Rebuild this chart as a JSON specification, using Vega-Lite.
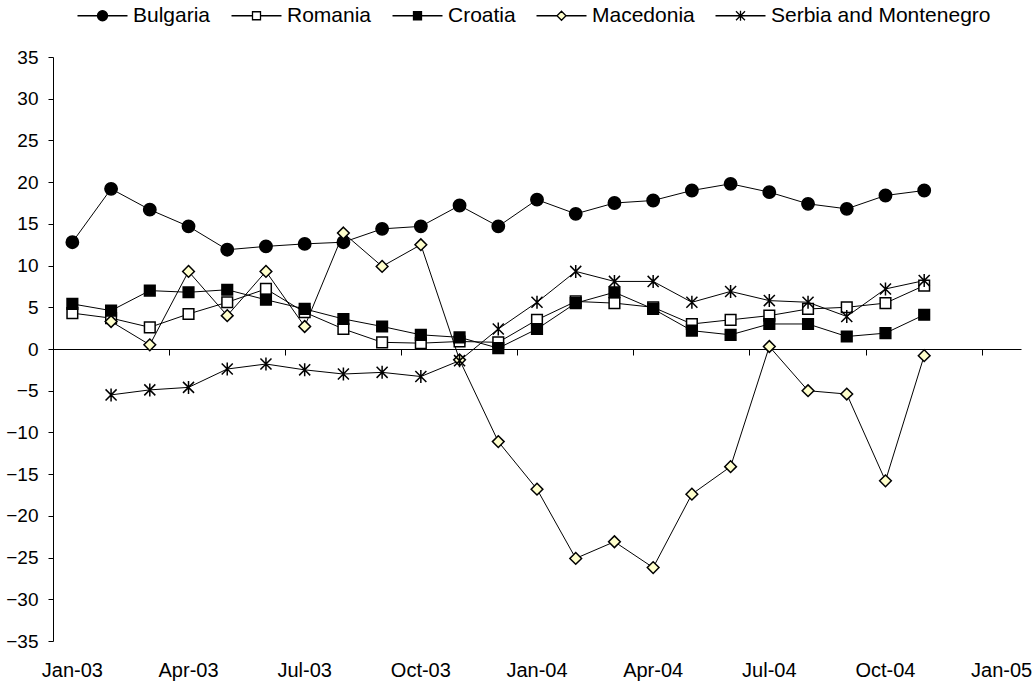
{
  "$schema": "https://vega.github.io/schema/vega-lite/v6.json",
  "width": 968,
  "height": 584,
  "autosize": "none",
  "padding": {"left": 53, "top": 57, "right": 15, "bottom": 45},
  "background": "white",
  "config": {
    "view": {"stroke": null},
    "font": "Liberation Sans",
    "axis": {"labelFont": "Liberation Sans", "labelColor": "black", "domainColor": "black", "tickColor": "black", "grid": false, "title": null},
    "legend": {"labelFont": "Liberation Sans"}
  },
  "data": {"values": [
    {"date": "2003-01-01", "month": "Jan-03", "country": "Bulgaria", "value": 12.8},
    {"date": "2003-02-01", "month": "Feb-03", "country": "Bulgaria", "value": 19.2},
    {"date": "2003-03-01", "month": "Mar-03", "country": "Bulgaria", "value": 16.7},
    {"date": "2003-04-01", "month": "Apr-03", "country": "Bulgaria", "value": 14.7},
    {"date": "2003-05-01", "month": "May-03", "country": "Bulgaria", "value": 11.9},
    {"date": "2003-06-01", "month": "Jun-03", "country": "Bulgaria", "value": 12.3},
    {"date": "2003-07-01", "month": "Jul-03", "country": "Bulgaria", "value": 12.6},
    {"date": "2003-08-01", "month": "Aug-03", "country": "Bulgaria", "value": 12.8},
    {"date": "2003-09-01", "month": "Sep-03", "country": "Bulgaria", "value": 14.4},
    {"date": "2003-10-01", "month": "Oct-03", "country": "Bulgaria", "value": 14.7},
    {"date": "2003-11-01", "month": "Nov-03", "country": "Bulgaria", "value": 17.2},
    {"date": "2003-12-01", "month": "Dec-03", "country": "Bulgaria", "value": 14.7},
    {"date": "2004-01-01", "month": "Jan-04", "country": "Bulgaria", "value": 17.9},
    {"date": "2004-02-01", "month": "Feb-04", "country": "Bulgaria", "value": 16.2},
    {"date": "2004-03-01", "month": "Mar-04", "country": "Bulgaria", "value": 17.5},
    {"date": "2004-04-01", "month": "Apr-04", "country": "Bulgaria", "value": 17.8},
    {"date": "2004-05-01", "month": "May-04", "country": "Bulgaria", "value": 19.0},
    {"date": "2004-06-01", "month": "Jun-04", "country": "Bulgaria", "value": 19.8},
    {"date": "2004-07-01", "month": "Jul-04", "country": "Bulgaria", "value": 18.8},
    {"date": "2004-08-01", "month": "Aug-04", "country": "Bulgaria", "value": 17.4},
    {"date": "2004-09-01", "month": "Sep-04", "country": "Bulgaria", "value": 16.8},
    {"date": "2004-10-01", "month": "Oct-04", "country": "Bulgaria", "value": 18.4},
    {"date": "2004-11-01", "month": "Nov-04", "country": "Bulgaria", "value": 19.0},

    {"date": "2003-01-01", "month": "Jan-03", "country": "Romania", "value": 4.3},
    {"date": "2003-02-01", "month": "Feb-03", "country": "Romania", "value": 3.7},
    {"date": "2003-03-01", "month": "Mar-03", "country": "Romania", "value": 2.6},
    {"date": "2003-04-01", "month": "Apr-03", "country": "Romania", "value": 4.2},
    {"date": "2003-05-01", "month": "May-03", "country": "Romania", "value": 5.6},
    {"date": "2003-06-01", "month": "Jun-03", "country": "Romania", "value": 7.2},
    {"date": "2003-07-01", "month": "Jul-03", "country": "Romania", "value": 4.4},
    {"date": "2003-08-01", "month": "Aug-03", "country": "Romania", "value": 2.4},
    {"date": "2003-09-01", "month": "Sep-03", "country": "Romania", "value": 0.8},
    {"date": "2003-10-01", "month": "Oct-03", "country": "Romania", "value": 0.7},
    {"date": "2003-11-01", "month": "Nov-03", "country": "Romania", "value": 0.9},
    {"date": "2003-12-01", "month": "Dec-03", "country": "Romania", "value": 0.8},
    {"date": "2004-01-01", "month": "Jan-04", "country": "Romania", "value": 3.5},
    {"date": "2004-02-01", "month": "Feb-04", "country": "Romania", "value": 5.7},
    {"date": "2004-03-01", "month": "Mar-04", "country": "Romania", "value": 5.5},
    {"date": "2004-04-01", "month": "Apr-04", "country": "Romania", "value": 5.0},
    {"date": "2004-05-01", "month": "May-04", "country": "Romania", "value": 3.0},
    {"date": "2004-06-01", "month": "Jun-04", "country": "Romania", "value": 3.5},
    {"date": "2004-07-01", "month": "Jul-04", "country": "Romania", "value": 4.0},
    {"date": "2004-08-01", "month": "Aug-04", "country": "Romania", "value": 4.8},
    {"date": "2004-09-01", "month": "Sep-04", "country": "Romania", "value": 5.0},
    {"date": "2004-10-01", "month": "Oct-04", "country": "Romania", "value": 5.5},
    {"date": "2004-11-01", "month": "Nov-04", "country": "Romania", "value": 7.6},

    {"date": "2003-01-01", "month": "Jan-03", "country": "Croatia", "value": 5.4},
    {"date": "2003-02-01", "month": "Feb-03", "country": "Croatia", "value": 4.6},
    {"date": "2003-03-01", "month": "Mar-03", "country": "Croatia", "value": 7.0},
    {"date": "2003-04-01", "month": "Apr-03", "country": "Croatia", "value": 6.8},
    {"date": "2003-05-01", "month": "May-03", "country": "Croatia", "value": 7.1},
    {"date": "2003-06-01", "month": "Jun-03", "country": "Croatia", "value": 5.9},
    {"date": "2003-07-01", "month": "Jul-03", "country": "Croatia", "value": 4.8},
    {"date": "2003-08-01", "month": "Aug-03", "country": "Croatia", "value": 3.6},
    {"date": "2003-09-01", "month": "Sep-03", "country": "Croatia", "value": 2.7},
    {"date": "2003-10-01", "month": "Oct-03", "country": "Croatia", "value": 1.7},
    {"date": "2003-11-01", "month": "Nov-03", "country": "Croatia", "value": 1.4},
    {"date": "2003-12-01", "month": "Dec-03", "country": "Croatia", "value": 0.1},
    {"date": "2004-01-01", "month": "Jan-04", "country": "Croatia", "value": 2.4},
    {"date": "2004-02-01", "month": "Feb-04", "country": "Croatia", "value": 5.5},
    {"date": "2004-03-01", "month": "Mar-04", "country": "Croatia", "value": 6.8},
    {"date": "2004-04-01", "month": "Apr-04", "country": "Croatia", "value": 4.8},
    {"date": "2004-05-01", "month": "May-04", "country": "Croatia", "value": 2.2},
    {"date": "2004-06-01", "month": "Jun-04", "country": "Croatia", "value": 1.7},
    {"date": "2004-07-01", "month": "Jul-04", "country": "Croatia", "value": 3.0},
    {"date": "2004-08-01", "month": "Aug-04", "country": "Croatia", "value": 3.0},
    {"date": "2004-09-01", "month": "Sep-04", "country": "Croatia", "value": 1.5},
    {"date": "2004-10-01", "month": "Oct-04", "country": "Croatia", "value": 1.9},
    {"date": "2004-11-01", "month": "Nov-04", "country": "Croatia", "value": 4.1},

    {"date": "2003-02-01", "month": "Feb-03", "country": "Macedonia", "value": 3.3},
    {"date": "2003-03-01", "month": "Mar-03", "country": "Macedonia", "value": 0.5},
    {"date": "2003-04-01", "month": "Apr-03", "country": "Macedonia", "value": 9.3},
    {"date": "2003-05-01", "month": "May-03", "country": "Macedonia", "value": 4.0},
    {"date": "2003-06-01", "month": "Jun-03", "country": "Macedonia", "value": 9.3},
    {"date": "2003-07-01", "month": "Jul-03", "country": "Macedonia", "value": 2.7},
    {"date": "2003-08-01", "month": "Aug-03", "country": "Macedonia", "value": 13.9},
    {"date": "2003-09-01", "month": "Sep-03", "country": "Macedonia", "value": 9.9},
    {"date": "2003-10-01", "month": "Oct-03", "country": "Macedonia", "value": 12.5},
    {"date": "2003-11-01", "month": "Nov-03", "country": "Macedonia", "value": -1.3},
    {"date": "2003-12-01", "month": "Dec-03", "country": "Macedonia", "value": -11.1},
    {"date": "2004-01-01", "month": "Jan-04", "country": "Macedonia", "value": -16.8},
    {"date": "2004-02-01", "month": "Feb-04", "country": "Macedonia", "value": -25.1},
    {"date": "2004-03-01", "month": "Mar-04", "country": "Macedonia", "value": -23.1},
    {"date": "2004-04-01", "month": "Apr-04", "country": "Macedonia", "value": -26.2},
    {"date": "2004-05-01", "month": "May-04", "country": "Macedonia", "value": -17.4},
    {"date": "2004-06-01", "month": "Jun-04", "country": "Macedonia", "value": -14.1},
    {"date": "2004-07-01", "month": "Jul-04", "country": "Macedonia", "value": 0.3},
    {"date": "2004-08-01", "month": "Aug-04", "country": "Macedonia", "value": -5.0},
    {"date": "2004-09-01", "month": "Sep-04", "country": "Macedonia", "value": -5.4},
    {"date": "2004-10-01", "month": "Oct-04", "country": "Macedonia", "value": -15.8},
    {"date": "2004-11-01", "month": "Nov-04", "country": "Macedonia", "value": -0.8},

    {"date": "2003-02-01", "month": "Feb-03", "country": "Serbia and Montenegro", "value": -5.5},
    {"date": "2003-03-01", "month": "Mar-03", "country": "Serbia and Montenegro", "value": -4.9},
    {"date": "2003-04-01", "month": "Apr-03", "country": "Serbia and Montenegro", "value": -4.6},
    {"date": "2003-05-01", "month": "May-03", "country": "Serbia and Montenegro", "value": -2.4},
    {"date": "2003-06-01", "month": "Jun-03", "country": "Serbia and Montenegro", "value": -1.8},
    {"date": "2003-07-01", "month": "Jul-03", "country": "Serbia and Montenegro", "value": -2.5},
    {"date": "2003-08-01", "month": "Aug-03", "country": "Serbia and Montenegro", "value": -3.0},
    {"date": "2003-09-01", "month": "Sep-03", "country": "Serbia and Montenegro", "value": -2.8},
    {"date": "2003-10-01", "month": "Oct-03", "country": "Serbia and Montenegro", "value": -3.3},
    {"date": "2003-11-01", "month": "Nov-03", "country": "Serbia and Montenegro", "value": -1.4},
    {"date": "2003-12-01", "month": "Dec-03", "country": "Serbia and Montenegro", "value": 2.4},
    {"date": "2004-01-01", "month": "Jan-04", "country": "Serbia and Montenegro", "value": 5.6},
    {"date": "2004-02-01", "month": "Feb-04", "country": "Serbia and Montenegro", "value": 9.3},
    {"date": "2004-03-01", "month": "Mar-04", "country": "Serbia and Montenegro", "value": 8.1},
    {"date": "2004-04-01", "month": "Apr-04", "country": "Serbia and Montenegro", "value": 8.1},
    {"date": "2004-05-01", "month": "May-04", "country": "Serbia and Montenegro", "value": 5.6},
    {"date": "2004-06-01", "month": "Jun-04", "country": "Serbia and Montenegro", "value": 6.9},
    {"date": "2004-07-01", "month": "Jul-04", "country": "Serbia and Montenegro", "value": 5.8},
    {"date": "2004-08-01", "month": "Aug-04", "country": "Serbia and Montenegro", "value": 5.6},
    {"date": "2004-09-01", "month": "Sep-04", "country": "Serbia and Montenegro", "value": 3.9},
    {"date": "2004-10-01", "month": "Oct-04", "country": "Serbia and Montenegro", "value": 7.2},
    {"date": "2004-11-01", "month": "Nov-04", "country": "Serbia and Montenegro", "value": 8.2}
  ]},
  "encoding": {
    "y": {
      "field": "value",
      "type": "quantitative",
      "scale": {"domain": [-35, 35], "nice": false, "zero": false},
      "axis": {
        "values": [-35, -30, -25, -20, -15, -10, -5, 0, 5, 10, 15, 20, 25, 30, 35],
        "tickSize": 5,
        "labelPadding": 10,
        "labelFontSize": 19,
        "domainColor": "black",
        "tickColor": "black",
        "labelColor": "black",
        "title": null,
        "grid": false
      }
    }
  },
  "layer": [
    {
      "mark": {"type": "line", "stroke": "black", "strokeWidth": 1},
      "encoding": {
        "x": {
          "field": "month",
          "type": "ordinal",
          "scale": {"type": "band", "paddingInner": 0, "paddingOuter": 0,
            "domain": ["Jan-03","Feb-03","Mar-03","Apr-03","May-03","Jun-03","Jul-03","Aug-03","Sep-03","Oct-03","Nov-03","Dec-03","Jan-04","Feb-04","Mar-04","Apr-04","May-04","Jun-04","Jul-04","Aug-04","Sep-04","Oct-04","Nov-04","Dec-04","Jan-05"]},
          "axis": {
            "orient": "bottom",
            "offset": -292,
            "labels": false,
            "title": null,
            "values": ["Jan-03","Apr-03","Jul-03","Oct-03","Jan-04","Apr-04","Jul-04","Oct-04","Jan-05"],
            "bandPosition": 0,
            "tickSize": 6,
            "domainColor": "black",
            "tickColor": "black"
          }
        },
        "detail": {"field": "country", "type": "nominal"},
        "order": {"field": "date", "type": "temporal"}
      }
    },
    {
      "mark": {"type": "point", "filled": true, "stroke": "black", "strokeWidth": 1.5, "size": 169, "opacity": 1},
      "encoding": {
        "x": {
          "field": "month",
          "type": "ordinal",
          "scale": {"type": "band", "paddingInner": 0, "paddingOuter": 0,
            "domain": ["Jan-03","Feb-03","Mar-03","Apr-03","May-03","Jun-03","Jul-03","Aug-03","Sep-03","Oct-03","Nov-03","Dec-03","Jan-04","Feb-04","Mar-04","Apr-04","May-04","Jun-04","Jul-04","Aug-04","Sep-04","Oct-04","Nov-04","Dec-04","Jan-05"]},
          "axis": {
            "orient": "bottom",
            "domain": false,
            "ticks": false,
            "labelPadding": 19,
            "labelFontSize": 20,
            "labelAngle": 0,
            "labelColor": "black",
            "title": null,
            "bandPosition": 0.5,
            "values": ["Jan-03","Apr-03","Jul-03","Oct-03","Jan-04","Apr-04","Jul-04","Oct-04","Jan-05"]
          }
        },
        "shape": {
          "field": "country",
          "type": "nominal",
          "legend": null,
          "scale": {
            "domain": ["Bulgaria", "Romania", "Croatia", "Macedonia", "Serbia and Montenegro"],
            "range": [
              "M0.95,0A0.95,0.95,0,1,1,-0.95,0A0.95,0.95,0,1,1,0.95,0Z",
              "M-0.82,-0.82H0.82V0.82H-0.82Z",
              "M-0.82,-0.82H0.82V0.82H-0.82Z",
              "M0,-0.9L0.9,0L0,0.9L-0.9,0Z",
              "M0,-1V1M-0.85,-0.85L0.85,0.85M-0.85,0.85L0.85,-0.85"
            ]
          }
        },
        "fill": {
          "field": "country",
          "type": "nominal",
          "legend": null,
          "scale": {
            "domain": ["Bulgaria", "Romania", "Croatia", "Macedonia", "Serbia and Montenegro"],
            "range": ["#000000", "#ffffff", "#000000", "#ffffcc", "#000000"]
          }
        }
      }
    },
    {
      "mark": {"type": "point", "filled": true, "size": 100, "opacity": 0},
      "encoding": {
        "x": {
          "field": "month",
          "type": "ordinal",
          "scale": {"type": "band", "paddingInner": 0, "paddingOuter": 0,
            "domain": ["Jan-03","Feb-03","Mar-03","Apr-03","May-03","Jun-03","Jul-03","Aug-03","Sep-03","Oct-03","Nov-03","Dec-03","Jan-04","Feb-04","Mar-04","Apr-04","May-04","Jun-04","Jul-04","Aug-04","Sep-04","Oct-04","Nov-04","Dec-04","Jan-05"]},
          "axis": null
        },
        "shape": {
          "field": "country",
          "type": "nominal",
          "scale": {
            "domain": ["Bulgaria", "Romania", "Croatia", "Macedonia", "Serbia and Montenegro"],
            "range": [
              "M-5,0H-1M1,0H5M1,0A1,1,0,1,1,-1,0A1,1,0,1,1,1,0Z",
              "M-5,0H-0.8M0.8,0H5M-0.8,-0.8H0.8V0.8H-0.8Z",
              "M-5,0H-0.8M0.8,0H5M-0.8,-0.8H0.8V0.8H-0.8Z",
              "M-5,0H-0.9M0.9,0H5M0,-0.9L0.9,0L0,0.9L-0.9,0Z",
              "M-5,0H5M0,-1V1M-0.9,-0.9L0.9,0.9M-0.9,0.9L0.9,-0.9"
            ]
          },
          "legend": {
            "orient": "none",
            "direction": "horizontal",
            "legendX": 39,
            "legendY": -52,
            "title": null,
            "padding": 0,
            "labelFontSize": 21,
            "labelColor": "black",
            "labelLimit": 500,
            "labelOffset": 20,
            "columnPadding": 17,
            "symbolSize": 100,
            "symbolOpacity": 1,
            "symbolStrokeWidth": 1.3
          }
        },
        "fill": {
          "field": "country",
          "type": "nominal",
          "scale": {
            "domain": ["Bulgaria", "Romania", "Croatia", "Macedonia", "Serbia and Montenegro"],
            "range": ["#000000", "#ffffff", "#000000", "#ffffcc", "#000000"]
          }
        },
        "stroke": {
          "field": "country",
          "type": "nominal",
          "scale": {
            "domain": ["Bulgaria", "Romania", "Croatia", "Macedonia", "Serbia and Montenegro"],
            "range": ["#000000", "#000000", "#000000", "#000000", "#000000"]
          }
        }
      }
    }
  ],
  "resolve": {
    "axis": {"x": "independent"},
    "scale": {"shape": "independent", "fill": "independent", "stroke": "independent"},
    "legend": {"shape": "independent", "fill": "independent", "stroke": "independent"}
  }
}
